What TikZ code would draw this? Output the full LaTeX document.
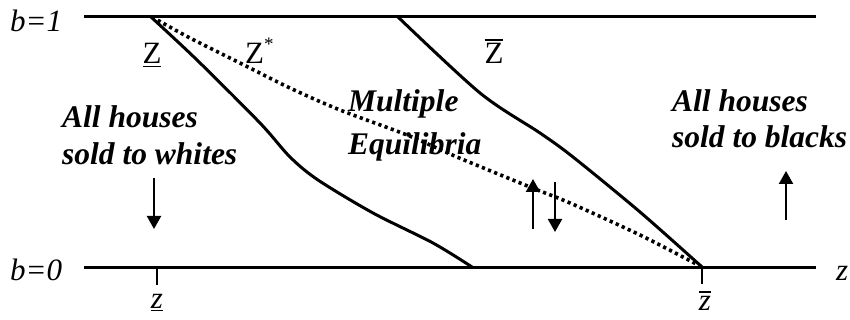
\documentclass[tikz,border=0pt]{standalone}
\usepackage{fontspec}
\setmainfont{Liberation Serif}
\usetikzlibrary{arrows.meta}
\newcommand\mybar[1]{\leavevmode\vbox{\hrule height 1.3pt\kern 3pt\hbox{#1}}}
\newcommand\myunder[1]{\leavevmode\vtop{\hbox{#1}\kern 2pt\hrule height 1.3pt}}
\begin{document}
\begin{tikzpicture}[x=1pt,y=-1pt,
  axisline/.style={line width=3pt},
  curveline/.style={line width=3pt, line join=round},
  dotline/.style={line width=3.6pt, dash pattern=on 3.2pt off 3.4pt},
  tickline/.style={line width=1.2pt},
  flowarrow/.style={line width=2.2pt, -{Triangle[length=13pt,width=14pt]}},
  lab/.style={inner sep=0pt, font=\fontsize{31}{37}\selectfont},
  boldlab/.style={inner sep=0pt, font=\fontsize{31.5}{37}\selectfont\bfseries\itshape}]
\useasboundingbox (0,0) rectangle (850,320);
% axis coordinates
\coordinate (t0) at (84,17);
\coordinate (t1) at (816,17);
\coordinate (b0) at (84,267);
\coordinate (b1) at (816,267);
\coordinate (zl) at (157,267);
\coordinate (zlt) at (157,285);
\coordinate (zh) at (702,267);
\coordinate (zht) at (702,284);
% axes
\draw[axisline] (t0) -- (t1);
\draw[axisline] (b0) -- (b1);
\draw[tickline] (zl) -- (zlt);
\draw[tickline] (zh) -- (zht);
% Z underline curve
\draw[curveline] plot[smooth, tension=0.5] coordinates {(151,17) (197,60) (260,123) (290,157) (318,180) (373,213) (433,243) (472,267)};
% Z bar curve
\draw[curveline] plot[smooth, tension=0.5] coordinates {(398,17) (480,93) (540,133) (573,157) (640,212) (702,267)};
% Z* dotted
\draw[dotline] plot[smooth, tension=0.5] coordinates {(152,17) (190,38) (240,63) (290,88) (340,110) (407,135) (457,157) (530,187) (570,203) (640,235) (702,267)};
% labels
\node[lab, anchor=base west] (b1lab) at (10,32) {\itshape b=1};
\node[lab, anchor=base west] (b0lab) at (10,280) {\itshape b=0};
\node[lab, anchor=base west] (zlab) at (836,280) {\itshape z};
\node[lab, anchor=base] (zunder) at (157,308) {\myunder{\itshape z}};
\node[lab, anchor=base] (zbar) at (705,310) {\mybar{\itshape z}};
\node[lab, anchor=base] (Zunder) at (152,64) {\myunder{Z}};
\node[lab, anchor=base west] (Zstar) at (245,64) {Z\raisebox{0.42em}{\fontsize{19}{19}\selectfont *}};
\node[lab, anchor=base] (Zbar) at (494,64) {\mybar{Z}};
\node[boldlab, anchor=base west] (whites) at (62,128) {\vtop{\hbox{All houses}\hbox{sold to whites}}};
\node[boldlab, anchor=base west] (multi) at (348,112) {\baselineskip=43pt\vtop{\hbox{Multiple}\hbox{Equilibria}}};
\node[boldlab, anchor=base west] (blacks) at (672,112) {\baselineskip=36pt\vtop{\hbox{All houses}\hbox{sold to blacks}}};
% arrows
\coordinate (wa0) at (154,178);
\coordinate (wa1) at (154,229);
\coordinate (ua0) at (533,229);
\coordinate (ua1) at (533,179);
\coordinate (da0) at (555,182);
\coordinate (da1) at (555,232);
\coordinate (ba0) at (786,220);
\coordinate (ba1) at (786,171);
\draw[flowarrow] (wa0) -- (wa1);
\draw[flowarrow] (ua0) -- (ua1);
\draw[flowarrow] (da0) -- (da1);
\draw[flowarrow] (ba0) -- (ba1);
\end{tikzpicture}
\end{document}
